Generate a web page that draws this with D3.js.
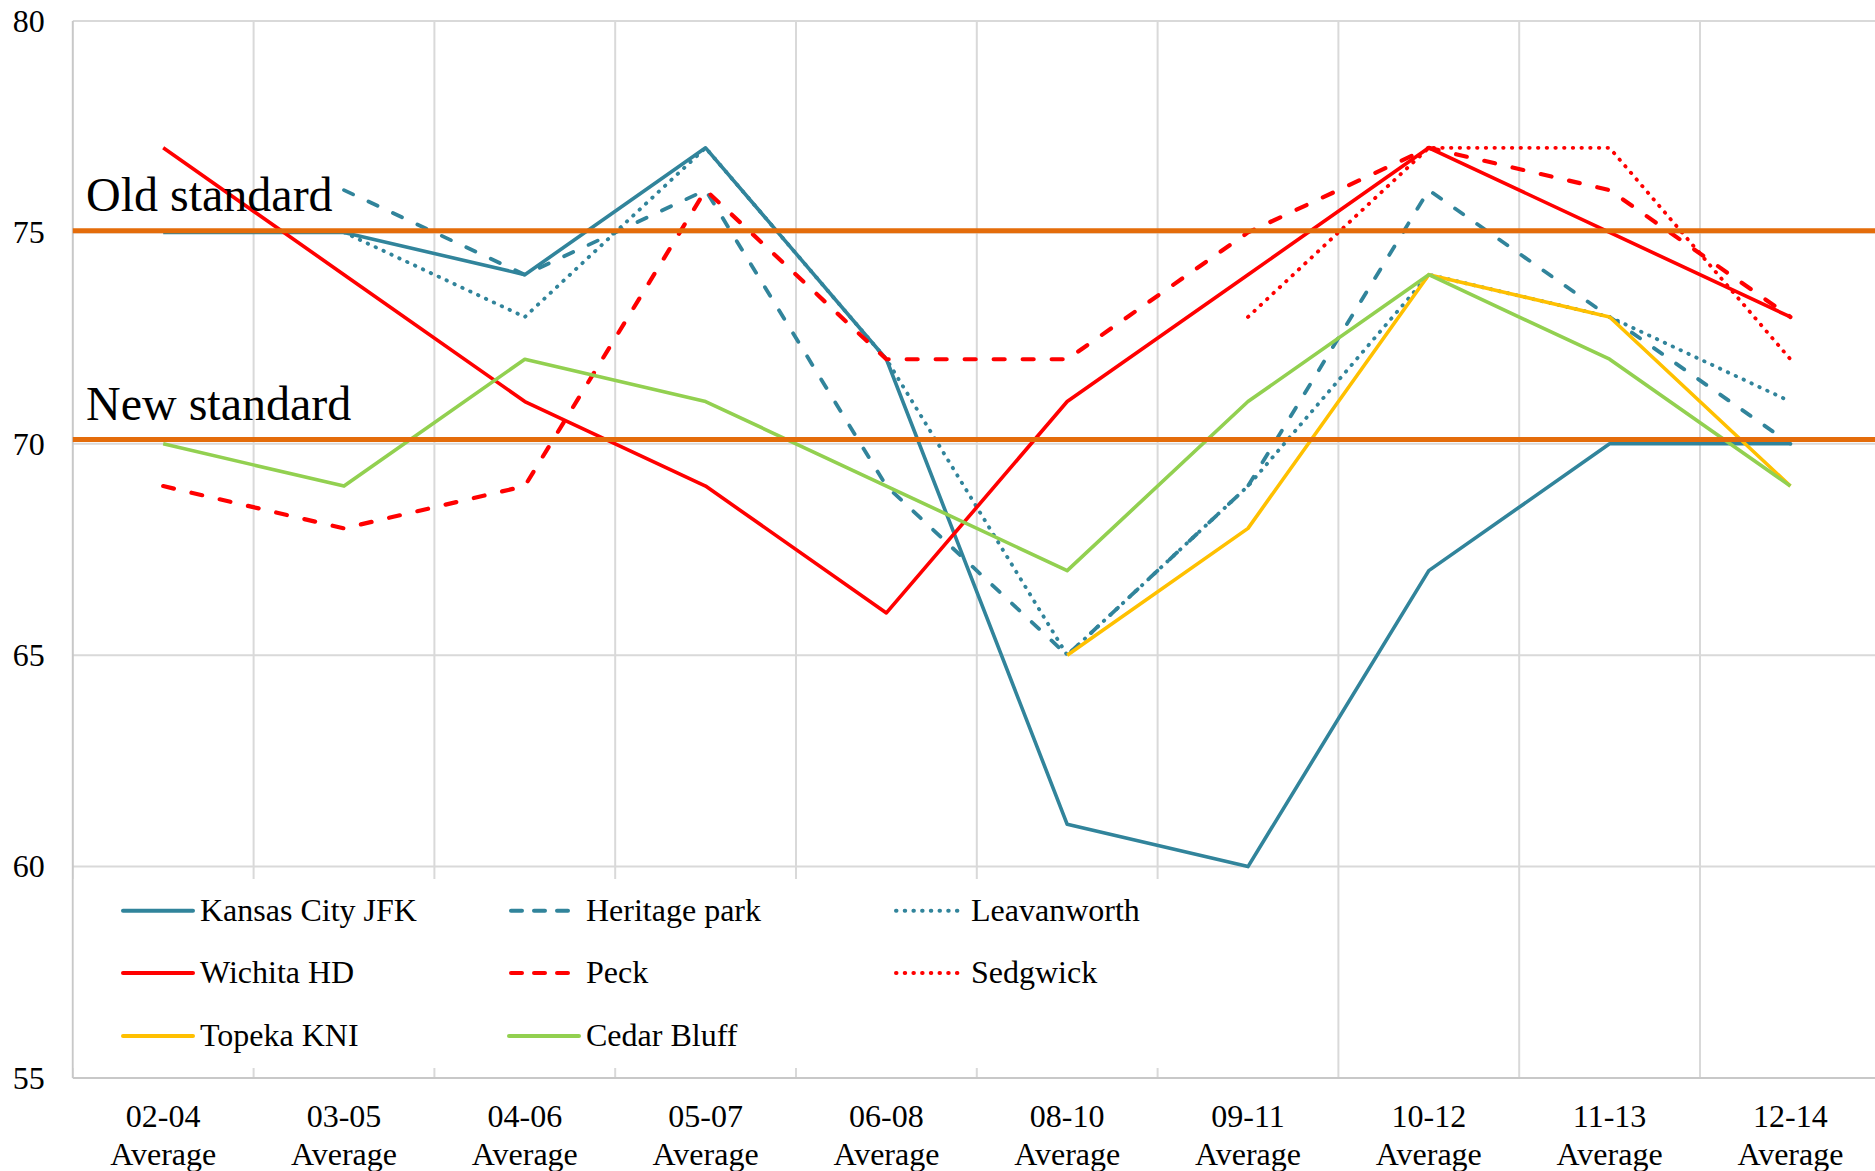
<!DOCTYPE html>
<html>
<head>
<meta charset="utf-8">
<script src="https://cdn.jsdelivr.net/npm/d3@7"></script>
<style>
  html, body { margin: 0; padding: 0; background: #ffffff; }
  svg { display: block; }
  text { font-family: "Liberation Serif", "Times New Roman", serif; fill: #000; }
</style>
</head>
<body>
<svg id="chart" width="1875" height="1171"></svg>
<script>
// ---------------- data ----------------
const categories = ["02-04 Average","03-05 Average","04-06 Average","05-07 Average","06-08 Average",
                    "08-10 Average","09-11 Average","10-12 Average","11-13 Average","12-14 Average"];
const yTicks = [55, 60, 65, 70, 75, 80];

const kansasCityJFK = [75, 75, 74, 77, 72, 61, 60, 67, 70, 70];
const heritagePark  = [null, 76, 74, 76, 69, 65, 69, 76, 73, 70];
const leavanworth   = [null, 75, 73, 77, 72, 65, 69, 74, 73, 71];
const wichitaHD     = [77, 74, 71, 69, 66, 71, 74, 77, 75, 73];
const peck          = [69, 68, 69, 76, 72, 72, 75, 77, 76, 73];
const sedgwick      = [null, null, null, null, null, null, 73, 77, 77, 72];
const topekaKNI     = [null, null, null, null, null, 65, 68, 74, 73, 69];
const cedarBluff    = [70, 69, 72, 71, 69, 67, 71, 74, 72, 69];

const seriesNames = ["Kansas City JFK","Heritage park","Leavanworth","Wichita HD","Peck","Sedgwick","Topeka KNI","Cedar Bluff"];
const seriesValues = [kansasCityJFK, heritagePark, leavanworth, wichitaHD, peck, sedgwick, topekaKNI, cedarBluff];

const standardNames = ["Old standard", "New standard"];
const standardValues = [75.04, 70.1];

// ---------------- styles ----------------
const TEAL = "#31849B", RED = "#FF0000", YELLOW = "#FFC000", GREEN = "#92D050", ORANGE = "#E46C0A";
const styles = [
  {color: TEAL,   width: 3.6, dash: null},
  {color: TEAL,   width: 3.8, dash: "10,17"},
  {color: TEAL,   width: 3.8, dash: "0.5,8.2"},
  {color: RED,    width: 3.6, dash: null},
  {color: RED,    width: 4.2, dash: "11,18"},
  {color: RED,    width: 3.8, dash: "0.5,8.2"},
  {color: YELLOW, width: 3.6, dash: null},
  {color: GREEN,  width: 3.6, dash: null}
];

// ---------------- layout ----------------
const svg = d3.select("#chart");
const plotLeft = 72.8, plotTop = 21, plotBottom = 1078;
const bandW = 180.8;
const x = d3.scaleBand().domain(categories).range([plotLeft, plotLeft + bandW * categories.length]).padding(0);
const xc = c => x(c) + x.bandwidth() / 2;
const y = d3.scaleLinear().domain([55, 80]).range([plotBottom, plotTop]);
const W = 1875;

// gridlines horizontal
svg.append("g").selectAll("line").data(yTicks.filter(t => t > 55)).join("line")
  .attr("x1", plotLeft).attr("x2", W)
  .attr("y1", d => y(d)).attr("y2", d => y(d))
  .attr("stroke", "#d9d9d9").attr("stroke-width", 2);

// gridlines vertical (band boundaries)
svg.append("g").selectAll("line").data(categories.slice(1)).join("line")
  .attr("x1", d => x(d)).attr("x2", d => x(d))
  .attr("y1", plotTop).attr("y2", plotBottom)
  .attr("stroke", "#d9d9d9").attr("stroke-width", 2);

// axes lines
svg.append("line").attr("x1", plotLeft).attr("x2", W).attr("y1", plotBottom).attr("y2", plotBottom)
  .attr("stroke", "#c8c8c8").attr("stroke-width", 2);
svg.append("line").attr("x1", plotLeft).attr("x2", plotLeft).attr("y1", plotTop).attr("y2", plotBottom)
  .attr("stroke", "#c8c8c8").attr("stroke-width", 2);

// y axis labels
const yAxis = d3.axisLeft(y).tickValues(yTicks).tickSize(0).tickPadding(28).tickFormat(d3.format("d"));
const gy = svg.append("g").attr("transform", `translate(${plotLeft},0)`).call(yAxis)
  .attr("font-family", "Liberation Serif").attr("font-size", 32);
gy.select(".domain").remove();
gy.selectAll("text").attr("font-size", 32).attr("font-family", "Liberation Serif").attr("fill", "#000");

// x axis labels (two lines)
const xAxis = d3.axisBottom(x).tickSize(0).tickFormat("");
const gx = svg.append("g").attr("transform", `translate(0,${plotBottom})`).call(xAxis)
  .attr("font-family", "Liberation Serif").attr("font-size", 32);
gx.select(".domain").remove();
gx.selectAll(".tick").each(function(d) {
  const parts = d.split(" ");
  const t = d3.select(this).append("text")
    .attr("text-anchor", "middle").attr("font-size", 32)
    .attr("font-family", "Liberation Serif").attr("fill", "#000");
  t.append("tspan").attr("x", 0).attr("y", 48.5).text(parts[0]);
  t.append("tspan").attr("x", 0).attr("y", 86.5).text(parts[1]);
});

// legend background box
svg.append("rect").attr("x", plotLeft + 1).attr("y", 879).attr("width", 1166).attr("height", 189)
  .attr("fill", "#ffffff");

// series
const line = d3.line().defined(d => d.v != null).x(d => xc(d.c)).y(d => y(d.v));
seriesValues.forEach((vals, i) => {
  const data = vals.map((v, j) => ({c: categories[j], v}));
  const s = styles[i];
  svg.append("path").datum(data)
    .attr("d", line)
    .attr("fill", "none")
    .attr("stroke", s.color)
    .attr("stroke-width", s.width)
    .attr("stroke-linejoin", "round")
    .attr("stroke-linecap", s.dash ? "round" : "butt")
    .attr("stroke-dasharray", s.dash);
});

// standard lines
standardValues.forEach((v, i) => {
  svg.append("line").attr("x1", plotLeft).attr("x2", W).attr("y1", y(v)).attr("y2", y(v))
    .attr("stroke", ORANGE).attr("stroke-width", 5);
  svg.append("text").attr("x", 86).attr("y", y(v) - 20)
    .attr("font-size", 48).attr("font-family", "Liberation Serif").text(standardNames[i]);
});

// legend
const legCols = [123, 509, 894];
const legRows = [910.7, 973, 1036];
seriesNames.forEach((name, i) => {
  const cx = legCols[i % 3], cy = legRows[Math.floor(i / 3)];
  const s = styles[i];
  svg.append("line").attr("x1", cx + (s.dash ? 2 : 0)).attr("x2", cx + 70).attr("y1", cy).attr("y2", cy)
    .attr("stroke", s.color).attr("stroke-width", 4)
    .attr("stroke-linecap", "round")
    .attr("stroke-dasharray", s.dash === "10,17" || s.dash === "11,18" ? "11,12" : s.dash);
  svg.append("text").attr("x", cx + 77).attr("y", cy + 10)
    .attr("font-size", 32).attr("font-family", "Liberation Serif").text(name);
});
</script>
</body>
</html>
